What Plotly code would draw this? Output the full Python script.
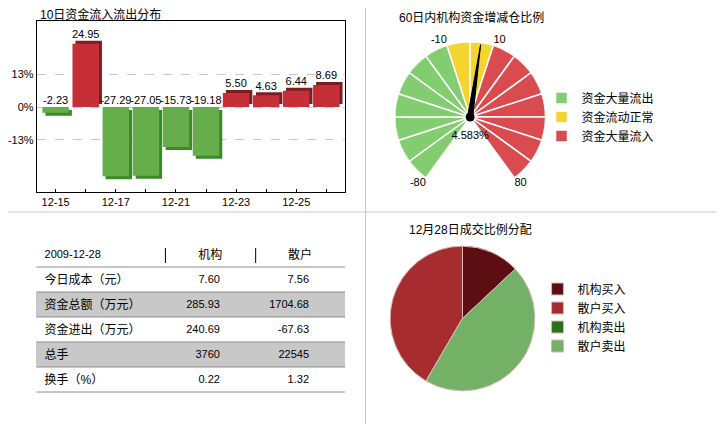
import plotly.graph_objects as go

# ---------------- data ----------------
flow_dates = ["12-15", "12-16", "12-17", "12-18", "12-21", "12-22", "12-23", "12-24", "12-25", "12-28"]
flow_values = [-2.23, 24.95, -27.29, -27.05, -15.73, -19.18, 5.50, 4.63, 6.44, 8.69]
flow_tick_labels = ["12-15", "", "12-17", "", "12-21", "", "12-23", "", "12-25", ""]
flow_y_ticks = [-13, 0, 13]
flow_y_ticktext = ["-13%", "0%", "13%"]

gauge_value = 4.583
gauge_groups = ["资金大量流出", "资金流动正常", "资金大量流入"]
gauge_group_ranges = [(-80, -10), (-10, 10), (10, 80)]
gauge_step = 10
gauge_tick_values = [-80, -10, 10, 80]

pie_labels = ["机构买入", "散户买入", "机构卖出", "散户卖出"]
pie_values = [13.0, 41.6, 0.0, 45.4]

table_header = ["2009-12-28", "机构", "散户"]
table_rows = ["今日成本（元）", "资金总额（万元）", "资金进出（万元）", "总手", "换手（%）"]
inst_values = ["7.60", "285.93", "240.69", "3760", "0.22"]
retail_values = ["7.56", "1704.68", "-67.63", "22545", "1.32"]

# ---------------- styles ----------------
W, H = 724, 424
OFF = 8  # page body margin of the html page
FW, FH = W - OFF, H - OFF
FONT = "Liberation Sans, Arial, Noto Sans CJK SC, sans-serif"
RED, RED_DARK = "#c62f38", "#7e1d22"
GREEN, GREEN_DARK = "#66ad4c", "#3a8a2a"
GAUGE_COLORS = ["#82cd70", "#f4d530", "#d94b4f"]
PIE_COLORS = ["#5c0e12", "#a62c2f", "#2b6e1b", "#73b266"]
GRID = "#c8c8c8"


def px(x):
    return (x - OFF) / FW


def py(y):
    return 1 - (y - OFF) / FH


fig = go.Figure()

# ---------------- 3D-ish bar chart ----------------
y_lo, y_hi = -33.5, 33.9
plot_top, plot_bot = 21, 192
units_per_px = (y_hi - y_lo) / (plot_bot - plot_top)
depth = 3 * units_per_px
bar_w = 0.88
x_depth = 0.1

shadow_base = [depth if v > 0 else -depth for v in flow_values]
fig.add_trace(go.Bar(
    x=flow_dates, y=flow_values, base=shadow_base, width=bar_w, offset=-bar_w / 2 + x_depth,
    marker=dict(color=[RED_DARK if v > 0 else GREEN_DARK for v in flow_values], line=dict(width=0)),
    showlegend=False, hoverinfo="skip"))
fig.add_trace(go.Bar(
    x=flow_dates, y=flow_values, width=bar_w, offset=-bar_w / 2,
    marker=dict(color=[RED if v > 0 else GREEN for v in flow_values], line=dict(width=0)),
    showlegend=False))
fig.add_trace(go.Scatter(
    x=flow_dates, y=[v + depth if v > 0 else 0 for v in flow_values],
    text=[f"{v:.2f}" for v in flow_values], mode="text", textposition="top center",
    textfont=dict(size=11, family=FONT, color="black"), cliponaxis=False,
    showlegend=False, hoverinfo="skip"))

# ---------------- gauge ----------------
deg_per_unit = 1.8
for name, (a, b), col in zip(gauge_groups, gauge_group_ranges, GAUGE_COLORS):
    centers = [c + gauge_step / 2 for c in range(a, b, gauge_step)]
    fig.add_trace(go.Barpolar(
        r=[1] * len(centers), theta=[c * deg_per_unit for c in centers],
        width=[gauge_step * deg_per_unit] * len(centers), name=name,
        marker=dict(color=col, line=dict(color="white", width=1.5)),
        legend="legend", subplot="polar"))

needle_theta = gauge_value * deg_per_unit
fig.add_trace(go.Scatterpolar(
    r=[0.035, 0.97, 0.035, 0.035], theta=[needle_theta - 90, needle_theta, needle_theta + 90, needle_theta - 90],
    mode="lines", fill="toself", fillcolor="black", line=dict(color="black", width=1),
    showlegend=False, hoverinfo="skip", subplot="polar"))
fig.add_trace(go.Scatterpolar(
    r=[0], theta=[0], mode="markers", marker=dict(color="black", size=9),
    showlegend=False, hoverinfo="skip", subplot="polar"))
fig.add_trace(go.Scatterpolar(
    r=[0.26], theta=[180], mode="text", text=[f"{gauge_value:.3f}%"],
    textposition="middle center", textfont=dict(size=11, family=FONT, color="black"),
    showlegend=False, hoverinfo="skip", subplot="polar", cliponaxis=False))
tick_pos = {-80: "bottom left", -10: "top left", 10: "top right", 80: "bottom right"}
fig.add_trace(go.Scatterpolar(
    r=[1.0] * len(gauge_tick_values), theta=[v * deg_per_unit for v in gauge_tick_values],
    mode="text", text=[str(v) for v in gauge_tick_values],
    textposition=[tick_pos[v] for v in gauge_tick_values],
    textfont=dict(size=11, family=FONT, color="black"),
    showlegend=False, hoverinfo="skip", subplot="polar", cliponaxis=False))

# ---------------- pie ----------------
fig.add_trace(go.Pie(
    labels=pie_labels, values=pie_values, sort=False, direction="counterclockwise", rotation=0,
    textinfo="none", marker=dict(colors=PIE_COLORS, line=dict(color="#d8b8b8", width=1)),
    domain=dict(x=[px(387.3), px(533.3)], y=[py(391.5), py(245.5)]), legend="legend2"))

# ---------------- table ----------------
tx0, tx1 = 30.7, 342.0
col_w = [130, 91, 90]
t_top, row_h = 242.0, 25.0
n_rows = len(table_rows)
row_fill = ["white" if i % 2 == 0 else "#c8c8c8" for i in range(n_rows)]
pad = "\u00a0" * 9
fig.add_trace(go.Table(
    domain=dict(x=[px(tx0), px(tx1)], y=[py(t_top + row_h * (n_rows + 1)), py(t_top)]),
    columnwidth=col_w,
    header=dict(values=table_header, fill=dict(color="white"), line=dict(color="white", width=1),
                align=["left", "center", "center"], height=row_h,
                font=dict(size=[11, 12, 12], family=FONT, color="black")),
    cells=dict(values=[table_rows, inst_values, retail_values],
               fill=dict(color=[row_fill] * 3), line=dict(color=[row_fill] * 3, width=1),
               align=["left", "right", "right"], suffix=["", pad, pad], height=row_h,
               font=dict(size=[12, 11, 11], family=FONT, color="black"))))

shapes = []
# panel dividers
shapes.append(dict(type="line", xref="paper", yref="paper", x0=px(362.5), x1=px(362.5), y0=py(H), y1=py(0),
                   line=dict(color=GRID, width=1), layer="below"))
shapes.append(dict(type="line", xref="paper", yref="paper", x0=px(0), x1=px(W), y0=py(212), y1=py(212),
                   line=dict(color=GRID, width=1), layer="below"))
# table rules
for i in range(n_rows + 1):
    yy = t_top + row_h * (i + 1)
    shapes.append(dict(type="line", xref="paper", yref="paper", x0=px(tx0), x1=px(tx1), y0=py(yy), y1=py(yy),
                       line=dict(color="#8c8c8c", width=1)))
xc = tx0
for w in col_w[:-1]:
    xc += w
    shapes.append(dict(type="line", xref="paper", yref="paper", x0=px(xc), x1=px(xc),
                       y0=py(t_top + row_h), y1=py(t_top + row_h * (n_rows + 1)),
                       line=dict(color="#c8c8c8", width=1), layer="below"))
    shapes.append(dict(type="line", xref="paper", yref="paper", x0=px(xc), x1=px(xc),
                       y0=py(t_top + 6), y1=py(t_top + 21), line=dict(color="black", width=1)))

annotations = [
    dict(text="10日资金流入流出分布", x=px(32), y=py(14.5), xref="paper", yref="paper",
         xanchor="left", yanchor="middle", showarrow=False, font=dict(size=12, family=FONT, color="black")),
    dict(text="60日内机构资金增减仓比例", x=px(394), y=py(17), xref="paper", yref="paper",
         xanchor="left", yanchor="middle", showarrow=False, font=dict(size=12, family=FONT, color="black")),
    dict(text="12月28日成交比例分配", x=px(404), y=py(229), xref="paper", yref="paper",
         xanchor="left", yanchor="middle", showarrow=False, font=dict(size=12, family=FONT, color="black")),
]

fig.update_layout(
    width=FW, height=FH, autosize=False, margin=dict(l=0, r=0, t=0, b=0),
    paper_bgcolor="white", plot_bgcolor="white", barmode="overlay",
    font=dict(family=FONT, size=11, color="black"),
    xaxis=dict(domain=[px(31), px(342)], type="category", range=[-0.626, 9.628],
               tickvals=flow_dates, ticktext=flow_tick_labels, ticks="inside", ticklen=3,
               tickcolor="black", showline=True, linecolor="black", mirror=True, showgrid=False,
               tickfont=dict(size=11, family=FONT, color="black"), fixedrange=True),
    yaxis=dict(domain=[py(plot_bot), py(plot_top)], range=[y_lo, y_hi], tickvals=flow_y_ticks,
               ticktext=flow_y_ticktext, showgrid=True, gridcolor=GRID, griddash="dash", zeroline=False,
               showline=True, linecolor="black", mirror=True, ticks="",
               tickfont=dict(size=11, family=FONT, color="black"), fixedrange=True),
    polar=dict(domain=dict(x=[px(392), px(544)], y=[py(193), py(41)]), bgcolor="rgba(0,0,0,0)",
               angularaxis=dict(visible=False, rotation=90, direction="clockwise"),
               radialaxis=dict(visible=False, range=[0, 1]), barmode="overlay"),
    legend=dict(x=px(540), y=py(117), xanchor="left", yanchor="middle", bgcolor="rgba(0,0,0,0)",
                font=dict(size=12, family=FONT, color="black"), borderwidth=0),
    legend2=dict(x=px(536), y=py(317.5), xanchor="left", yanchor="middle", bgcolor="rgba(0,0,0,0)",
                 font=dict(size=12, family=FONT, color="black"), borderwidth=0),
    shapes=shapes, annotations=annotations,
)

fig.write_html("out.html")
